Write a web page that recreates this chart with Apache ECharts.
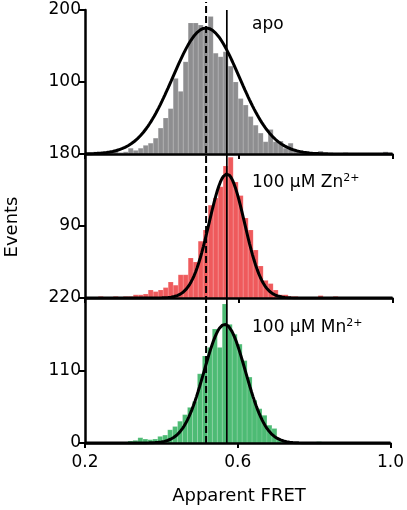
<!DOCTYPE html>
<html><head><meta charset="utf-8">
<script src="https://cdn.jsdelivr.net/npm/echarts@6/dist/echarts.min.js"></script>
<style>html,body{margin:0;padding:0;background:#fff}#c{width:407px;height:510px}</style>
</head><body><div id="c"></div>
<script>
// ---- data ----
const binCenters = [0.215,0.228,0.241,0.254,0.267,0.280,0.293,0.306,0.319,0.332,
  0.345,0.358,0.371,0.384,0.397,0.410,0.423,0.436,0.449,0.462,
  0.475,0.488,0.501,0.514,0.527,0.540,0.553,0.566,0.579,0.592,
  0.605,0.618,0.631,0.644,0.657,0.670,0.683,0.696,0.709,0.722,
  0.735,0.748,0.761,0.774,0.787,0.800,0.813,0.826,0.839,0.852,
  0.865,0.878,0.891,0.904,0.917,0.930,0.943,0.956,0.969,0.982];
const binWidth = 0.013;
const apoCounts = [2,3,2,1,3,6,2,3,8,5,
  8,12,15,22,36,50,63,105,87,128,
  182,182,179,173,191,140,135,142,122,100,
  77,68,52,40,29,17,34,17,18,8,
  15,4,5,2,2,1,4,1,2,1,
  1,2,1,1,0,1,1,1,1,3];
const znCounts = [1,1,2,1,1,2,1,2,2,4,
  4,5,10,8,10,13,20,16,29,29,
  50,45,71,85,116,125,139,165,176,145,
  128,100,85,60,40,22,18,10,4,4,
  2,2,1,1,1,1,3,1,1,2,
  1,0,1,0,0,1,0,0,1,0];
const mnCounts = [0,0,0,0,0,0,0,1,3,4,
  8,6,5,6,10,12,20,25,33,43,
  54,63,105,132,145,173,145,211,180,165,
  150,125,100,65,52,42,27,22,5,3,
  2,1,1,0,1,0,2,0,1,0,
  0,1,0,0,0,0,0,0,0,0];
// Gaussian fit parameters
const fitMu = [0.515, 0.569, 0.566];
const fitSigma = [0.087, 0.046, 0.054];
const fitAmp = [175, 155, 180];
const dashedRef = 0.515;
const solidRef = 0.569;
const yMax = [200, 180, 220];
const yStep = [100, 90, 110];
const xMin = 0.2, xMax = 1.0, xStep = 0.4;
const panelNames = ['apo', '100 µM Zn', '100 µM Mn'];
const panelSup = ['', '2+', '2+'];
const xTitle = 'Apparent FRET';
const yTitle = 'Events';

const colors = ['#8e8e90', '#ef5a5c', '#4dbb74'];
const counts = [apoCounts, znCounts, mnCounts];
const FONT = 'DejaVu Sans';

const gridTops = [10, 154, 298];
const gridHeights = [144, 144, 145];

function barRender(params, api) {
  const c = api.value(0), v = api.value(1);
  const p0 = api.coord([c - binWidth / 2, v]);
  const p1 = api.coord([c + binWidth / 2, 0]);
  return {
    type: 'rect',
    shape: { x: p0[0], y: p0[1], width: p1[0] - p0[0], height: p1[1] - p0[1] },
    style: { fill: api.visual('color'), stroke: 'rgba(255,255,255,0.25)', lineWidth: 0.5 }
  };
}

function fitCurve(i) {
  const pts = [];
  for (let k = 0; k <= 200; k++) {
    const x = xMin + (xMax - xMin) * k / 200;
    const d = (x - fitMu[i]) / fitSigma[i];
    pts.push([x, fitAmp[i] * Math.exp(-0.5 * d * d)]);
  }
  return pts;
}

const grids = [], xAxes = [], yAxes = [], series = [];
for (let i = 0; i < 3; i++) {
  grids.push({ left: 85, right: 14.5, top: gridTops[i], height: gridHeights[i] });
  xAxes.push({
    gridIndex: i, type: 'value', min: xMin, max: xMax, interval: xStep, z: 6,
    axisLine: { show: true, lineStyle: { color: '#000', width: 2.5 } },
    axisTick: { show: true, length: 5, lineStyle: { color: '#000', width: 2 } },
    axisLabel: { show: i === 2, color: '#000', fontSize: 17, fontFamily: FONT, margin: 11,
      formatter: v => v.toFixed(1) },
    splitLine: { show: false }
  });
  yAxes.push({
    gridIndex: i, type: 'value', min: 0, max: yMax[i], interval: yStep[i], z: 6,
    axisLine: { show: true, lineStyle: { color: '#000', width: 2.5 } },
    axisTick: { show: true, length: 6, lineStyle: { color: '#000', width: 2 } },
    axisLabel: { color: '#000', fontSize: 17, fontFamily: FONT, margin: 4,
      formatter: v => (i < 2 && v === 0) ? '' : String(v) },
    splitLine: { show: false }
  });
  series.push({
    type: 'custom', xAxisIndex: i, yAxisIndex: i, renderItem: barRender,
    itemStyle: { color: colors[i] }, z: 1, silent: true,
    data: binCenters.map((c, k) => [c, counts[i][k]])
  });
  series.push({
    type: 'line', xAxisIndex: i, yAxisIndex: i, data: fitCurve(i), showSymbol: false,
    smooth: false, lineStyle: { color: '#000', width: 3 }, z: 5, silent: true
  });
}
// overlay grid for the reference lines spanning all panels
grids.push({ left: 85, right: 14.5, top: 2, height: 441 });
xAxes.push({ gridIndex: 3, type: 'value', min: xMin, max: xMax, show: false });
yAxes.push({ gridIndex: 3, type: 'value', min: 0, max: 1, show: false });
series.push({
  type: 'line', xAxisIndex: 3, yAxisIndex: 3, data: [[dashedRef, 0], [dashedRef, 1]],
  showSymbol: false, lineStyle: { color: '#000', width: 2, type: [7, 3] }, z: 3, silent: true
});
series.push({
  type: 'line', xAxisIndex: 3, yAxisIndex: 3, data: [[solidRef, 0], [solidRef, 0.982]],
  showSymbol: false, lineStyle: { color: '#000', width: 1.7 }, z: 3, silent: true
});

const labelY = [27, 184, 329];
const graphic = panelNames.map((n, i) => ({
  type: 'text', left: 252, top: labelY[i] - 11, z: 10,
  style: {
    text: n + (panelSup[i] ? '{sup|' + panelSup[i] + '}' : ''),
    font: '17px "' + FONT + '"', fill: '#000',
    rich: { sup: { fontSize: 11, fontFamily: FONT, verticalAlign: 'top', fill: '#000', padding: [0, 0, 8, 0] } }
  }
}));
graphic.push({
  type: 'text', x: 12, y: 227, rotation: Math.PI / 2, z: 10,
  style: { text: yTitle, font: '18px "' + FONT + '"', fill: '#000', align: 'center', verticalAlign: 'middle' }
});
graphic.push({
  type: 'text', x: 239, y: 496, z: 10,
  style: { text: xTitle, font: '18px "' + FONT + '"', fill: '#000', align: 'center', verticalAlign: 'middle' }
});

const chart = echarts.init(document.getElementById('c'), null, { renderer: 'canvas' });
chart.setOption({
  animation: false,
  backgroundColor: '#fff',
  grid: grids, xAxis: xAxes, yAxis: yAxes, series: series, graphic: graphic
});
</script></body></html>
